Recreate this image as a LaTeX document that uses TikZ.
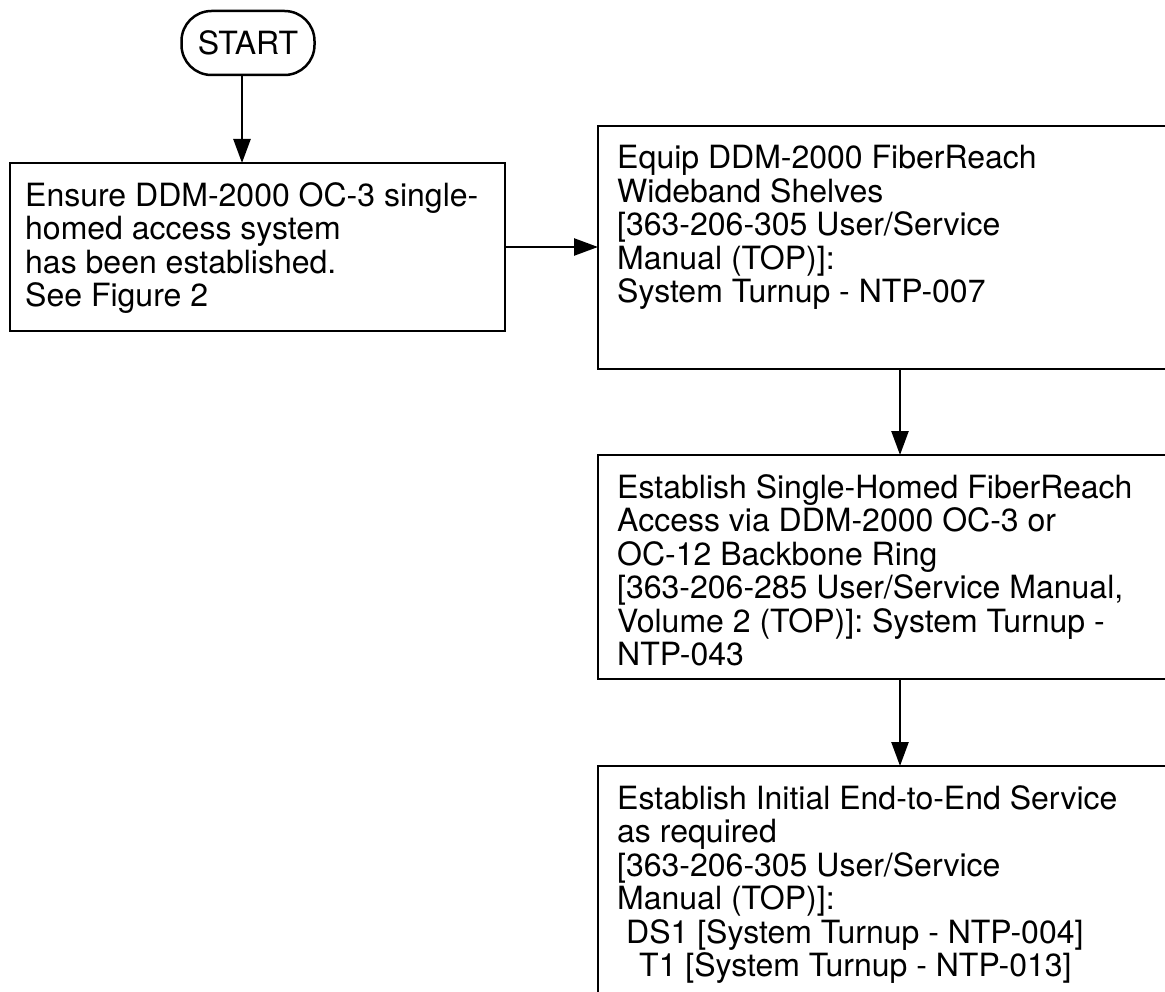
\documentclass[tikz,border=0pt]{standalone}
\usepackage{fontspec}
\setmainfont{TeX Gyre Heros}
\usetikzlibrary{arrows.meta}

\tikzset{
	flowbox/.style={draw, line width=2.5pt, anchor=north west, inner sep=0pt, outer sep=0pt},
	flowtext/.style={anchor=north west, align=left, inner sep=0pt, font=\fontsize{32}{33.5}\selectfont},
	flowarrow/.style={line width=2.5pt, -{Triangle[length=24pt, width=17pt]}}
}

\begin{document}
\begin{tikzpicture}[x=1pt, y=-1pt]
	\useasboundingbox (0,0) rectangle (1165,992);
	% start terminal and the first step
	\node [draw, line width=2.5pt, rounded corners=30pt, minimum width=133pt, minimum height=64pt, outer sep=0pt, font=\fontsize{32}{33.5}\selectfont] (start) at (248,43) {START};
	\node [flowbox, minimum width=495pt, minimum height=168pt] (ensure) at (10,163) {};
	\node [flowtext] (ensuretext) at ([shift={(15,19)}]ensure.north west) {Ensure DDM-2000 OC-3 single-\\homed access system\\has been established.\\See Figure 2};
	% the three steps on the right
	\node [flowbox, minimum width=604pt, minimum height=243pt] (equip) at (598,126) {};
	\node [flowbox, minimum width=604pt, minimum height=224pt] (access) at (598,455) {};
	\node [flowbox, minimum width=604pt, minimum height=260pt] (service) at (598,766) {};
	\node [flowtext] (equiptext) at ([shift={(19,19)}]equip.north west) {Equip DDM-2000 FiberReach\\Wideband Shelves\\{[}363-206-305 User/Service\\Manual (TOP)]:\\System Turnup - NTP-007};
	\node [flowtext] (accesstext) at ([shift={(19,19)}]access.north west) {Establish Single-Homed FiberReach\\Access via DDM-2000 OC-3 or\\OC-12 Backbone Ring\\{[}363-206-285 User/Service Manual,\\Volume 2 (TOP)]: System Turnup -\\NTP-043};
	\node [flowtext] (servicetext) at ([shift={(19,19)}]service.north west) {Establish Initial End-to-End Service\\as required\\{[}363-206-305 User/Service\\Manual (TOP)]:\\\hspace*{9pt}DS1 [System Turnup - NTP-004]\\\hspace*{22pt}T1 [System Turnup - NTP-013]};
	% connectors
	\draw [flowarrow] ([xshift=-6pt]start.south) -- ([xshift=-6pt]start.south |- ensure.north);
	\draw [flowarrow] (ensure.east) -- (ensure.east -| equip.west);
	\draw [flowarrow] (equip.south) -- (access.north);
	\draw [flowarrow] (access.south) -- (service.north);
\end{tikzpicture}
\end{document}
